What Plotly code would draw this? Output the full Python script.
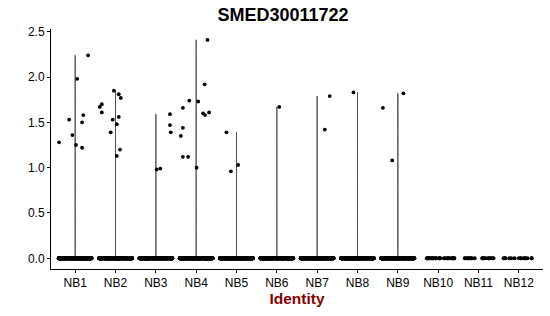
import plotly.graph_objects as go

# ---- data ----
groups = ["NB1", "NB2", "NB3", "NB4", "NB5", "NB6", "NB7", "NB8", "NB9", "NB10", "NB11", "NB12"]
zero_counts = [400, 400, 400, 400, 400, 400, 400, 400, 400, 30, 20, 15]

# non-zero expression values per group, with their horizontal jitter (in category units)
nonzero_values = {
    "NB1": [1.28, 1.53, 1.36, 1.25, 1.98, 1.22, 1.50, 1.58, 2.24],
    "NB2": [1.67, 1.70, 1.61, 1.39, 1.53, 1.85, 1.48, 1.56, 1.81, 1.77, 1.20, 1.13],
    "NB3": [0.98, 0.99, 1.59, 1.47, 1.39],
    "NB4": [1.66, 1.44, 1.35, 1.12, 1.12, 1.74, 1.73, 2.41, 1.92, 1.60, 1.58, 1.61, 1.00],
    "NB5": [1.39, 0.96, 1.03],
    "NB6": [1.67],
    "NB7": [1.79, 1.42],
    "NB8": [1.83],
    "NB9": [1.82, 1.66, 1.08],
}
nonzero_jitter = {
    "NB1": [-0.40, -0.15, -0.07, 0.02, 0.05, 0.17, 0.17, 0.20, 0.32],
    "NB2": [-0.39, -0.34, -0.34, -0.12, -0.07, -0.04, 0.03, 0.08, 0.08, 0.13, 0.11, 0.03],
    "NB3": [0.02, 0.11, 0.35, 0.35, 0.37],
    "NB4": [-0.33, -0.33, -0.38, -0.33, -0.20, -0.17, 0.05, 0.28, 0.21, 0.17, 0.22, 0.32, 0.01],
    "NB5": [-0.25, -0.14, 0.04],
    "NB6": [0.06],
    "NB7": [0.31, 0.19],
    "NB8": [-0.10],
    "NB9": [0.14, -0.37, -0.14],
}
y_ticks = [0.0, 0.5, 1.0, 1.5, 2.0, 2.5]
title_text = "SMED30011722"
x_title = "Identity"

FONT = "Liberation Sans, Arial, sans-serif"

fig = go.Figure()

# violins (thin lines, as in Seurat VlnPlot)
for i, g in enumerate(groups, start=1):
    vals = nonzero_values.get(g, [])
    if not vals:
        continue
    fig.add_trace(go.Violin(
        x=[i] * (zero_counts[i - 1] + len(vals)),
        y=[0.0] * zero_counts[i - 1] + vals,
        width=0.9, bandwidth=0.006, spanmode="hard", scalemode="width",
        points=False, line=dict(color="#3a3a3a", width=0.9),
        fillcolor="#3a3a3a", hoverinfo="skip", showlegend=False,
    ))

# zero-valued cells, jittered by the library
zx, zy = [], []
for i, n in enumerate(zero_counts, start=1):
    zx += [i] * n
    zy += [0.0] * n
fig.add_trace(go.Box(
    x=zx, y=zy, boxpoints="all", jitter=1, pointpos=0,
    fillcolor="rgba(0,0,0,0)", line=dict(color="rgba(0,0,0,0)", width=0),
    marker=dict(color="black", size=4), whiskerwidth=0,
    hoverinfo="skip", showlegend=False,
))

# non-zero cells
px, py = [], []
for i, g in enumerate(groups, start=1):
    for v, j in zip(nonzero_values.get(g, []), nonzero_jitter.get(g, [])):
        px.append(i + j)
        py.append(v)
fig.add_trace(go.Scatter(
    x=px, y=py, mode="markers", marker=dict(color="black", size=3.8),
    hoverinfo="skip", showlegend=False,
))

fig.update_layout(
    width=550, height=316,
    margin=dict(l=51, r=7, t=29, b=47),
    plot_bgcolor="white", paper_bgcolor="white",
    boxgap=0.18, boxgroupgap=0, boxmode="overlay", violinmode="overlay",
    font=dict(family=FONT, color="black", size=12),
    title=dict(text=f"<b>{title_text}</b>", x=283 / 550, xanchor="center",
               y=1 - 15 / 316, yanchor="middle", font=dict(size=18, color="black")),
)
fig.update_xaxes(
    range=[0.4, 12.6], tickmode="array", tickvals=list(range(1, len(groups) + 1)), ticktext=groups,
    showline=True, linecolor="black", linewidth=1, ticks="outside", ticklen=3, tickcolor="black",
    showgrid=False, zeroline=False,
    tickfont=dict(size=12, color="black"),
    title=dict(text=f"<b>{x_title}</b>", font=dict(size=15.5, color="#8B0000"), standoff=3),
)
fig.update_yaxes(
    range=[-0.118, 2.530], tickmode="array", tickvals=y_ticks, ticktext=[f"{v:.1f}" for v in y_ticks],
    showline=True, linecolor="black", linewidth=1, ticks="outside", ticklen=3, tickcolor="black",
    showgrid=False, zeroline=False, tickfont=dict(size=12, color="black"),
)

fig.write_html("out.html")
